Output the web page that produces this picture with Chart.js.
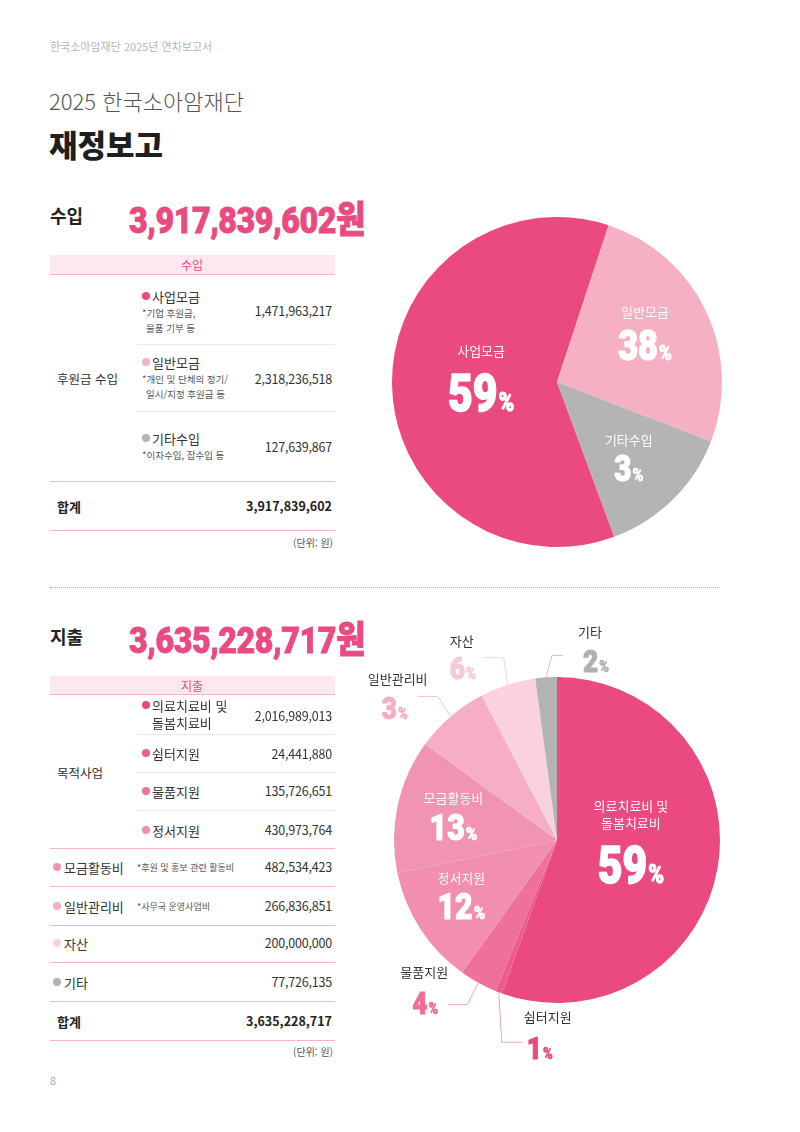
<!DOCTYPE html>
<html lang="ko">
<head>
<meta charset="utf-8">
<script src="https://cdn.jsdelivr.net/npm/chart.js@4.4.1/dist/chart.umd.min.js"></script>
<style>
  html, body { margin: 0; padding: 0; background: #fff; }
  #page { position: relative; width: 800px; height: 1132px; overflow: hidden;
          font-family: "Noto Sans CJK KR", "Noto Sans", sans-serif; color: #333; }
  .t { position: absolute; white-space: nowrap; line-height: 1; }
  .ln { position: absolute; }
  .dot { position: absolute; width: 8px; height: 8px; border-radius: 50%; }
  canvas { position: absolute; }
</style>
</head>
<body>
<div id="page">
  <canvas id="pieIncome" width="360" height="370" style="left:380px;top:200px;width:360px;height:370px"></canvas>
  <canvas id="pieExpense" width="400" height="460" style="left:360px;top:610px;width:400px;height:460px"></canvas>
</div>
<script>
// 수입 (income)
var incomeLabels = ['사업모금', '일반모금', '기타수입'];
var incomeAmounts = [1471963217, 2318236518, 127639867];
// slice sizes as they are drawn in the original pie (%), not the table ratio
var incomeSlices = [60.7, 25.8, 13.5];
var incomePct = ['59', '38', '3'];
var incomeTotal = 3917839602;

// 지출 (expense)
var expenseLabels = ['의료치료비 및 돌봄치료비', '쉼터지원', '물품지원', '정서지원', '모금활동비', '일반관리비', '자산', '기타'];
var expenseAmounts = [2016989013, 24441880, 135726651, 430973764, 482534423, 266836851, 200000000, 77726135];
var expensePct = ['59', '1', '4', '12', '13', '3', '6', '2'];
var expenseTotal = 3635228717;

var incomeColors = ['#EA4A80', '#F6B0C4', '#B4B4B4'];
var expenseColors = ['#EA4A80', '#EC5C8C', '#EF7199', '#F28FAF', '#F094B2', '#F5AEC3', '#FAD2DE', '#B3B3B3'];

var page = document.getElementById('page');
var fmt = function(n) { return n.toLocaleString('en-US'); };

function T(x, y, s, css, align) {
    var d = document.createElement('div');
    d.className = 't';
    d.textContent = s;
    var tx = align == 'right' ? '-100%' : (align == 'center' ? '-50%' : '0');
    d.style.cssText = 'left:' + x + 'px;top:' + y + 'px;transform:translate(' + tx + ',-50%);' + (css || '');
    page.appendChild(d);
    return d;
}
function L(x1, x2, y, css) {
    var d = document.createElement('div');
    d.className = 'ln';
    d.style.cssText = 'left:' + x1 + 'px;top:' + y + 'px;width:' + (x2 - x1) + 'px;' + css;
    page.appendChild(d);
}
function D(x, y, c) {
    var d = document.createElement('div');
    d.className = 'dot';
    d.style.cssText = 'left:' + (x - 4) + 'px;top:' + (y - 4) + 'px;background:' + c;
    page.appendChild(d);
}
function bigTotal(x, y, s) {
    var d = T(x, y, s, 'font-family:Roboto,"Noto Sans CJK KR";font-weight:900;font-size:37px;color:#E94A80;letter-spacing:-0.5px;-webkit-text-stroke:0.8px #E94A80;');
    d.style.transformOrigin = '0 0';
    d.style.transform = 'scaleX(0.87) translate(0,-50%)';
}

var pinkLine = 'border-top:1.5px solid #F5B5C8;';
var softLine = 'border-top:1px solid #F1E6EA;';
var numCss = 'font-size:12.5px;color:#333;letter-spacing:-0.2px;';
var noteCss = 'font-size:9.5px;color:#555;';
var itemCss = 'font-size:13px;color:#333;';

// header
T(50, 46, '한국소아암재단 2025년 연차보고서', 'font-size:11px;color:#b5b5b5;');
T(49, 100, '2025 한국소아암재단', 'font-size:22px;color:#555;font-weight:300;');
T(49, 143, '재정보고', 'font-size:31px;color:#1f1f1f;font-weight:900;');

// ---- income table
T(50, 215, '수입', 'font-size:18px;font-weight:700;color:#222;');
bigTotal(129, 220, fmt(incomeTotal) + '원');
var band = document.createElement('div');
band.style.cssText = 'position:absolute;left:50px;top:255px;width:285px;height:19px;background:#FDE8EF;';
page.appendChild(band);
L(50, 335, 274, pinkLine);
T(192, 265, '수입', 'font-size:12px;color:#E94A80;', 'center');
T(57, 379, '후원금 수입', 'font-size:12.5px;color:#333;');

var incRowY = [296, 362, 438];
var incValY = [311, 379, 447];
var incNotes = [['*기업 후원금,', '물품 기부 등'], ['*개인 및 단체의 정기/', '일시/지정 후원금 등'], ['*이자수입, 잡수입 등']];
for (var i = 0; i < incomeLabels.length; i++) {
    D(146, incRowY[i], incomeColors[i]);
    T(152, incRowY[i], incomeLabels[i], itemCss);
    for (var k = 0; k < incNotes[i].length; k++) {
        T(k == 0 ? 142 : 146, incRowY[i] + 18 + k * 15, incNotes[i][k], noteCss);
    }
    T(332, incValY[i], fmt(incomeAmounts[i]), numCss, 'right');
}
L(137, 335, 344, softLine);
L(137, 335, 411, softLine);
L(50, 335, 481, pinkLine);
T(57, 506, '합계', 'font-size:13px;font-weight:700;color:#222;');
T(332, 506, fmt(incomeTotal), 'font-size:12.5px;font-weight:700;color:#222;', 'right');
L(50, 335, 530, pinkLine);
T(333, 543, '(단위: 원)', 'font-size:10px;color:#555;', 'right');

// dotted divider
L(50, 720, 587, 'border-top:1.5px dotted #F08FAF;');

// ---- expense table
T(50, 636, '지출', 'font-size:18px;font-weight:700;color:#222;');
bigTotal(129, 640, fmt(expenseTotal) + '원');
var band2 = document.createElement('div');
band2.style.cssText = 'position:absolute;left:50px;top:676px;width:285px;height:18px;background:#FDE8EF;';
page.appendChild(band2);
L(50, 335, 694, pinkLine);
T(192, 686, '지출', 'font-size:12px;color:#E94A80;', 'center');
T(57, 773, '목적사업', 'font-size:12.5px;color:#333;');

var expRowY = [705, 753, 791, 830];
var expValY = [716, 754, 791, 830];
for (var i = 0; i < 4; i++) {
    D(146, expRowY[i], expenseColors[i]);
    if (i == 0) {
        T(152, 705, '의료치료비 및', itemCss);
        T(152, 722, '돌봄치료비', itemCss);
    } else {
        T(152, expRowY[i], expenseLabels[i], itemCss);
    }
    T(332, expValY[i], fmt(expenseAmounts[i]), numCss, 'right');
}
L(137, 335, 734, softLine);
L(137, 335, 772, softLine);
L(137, 335, 810, softLine);
L(50, 335, 848, pinkLine);

var lowY = [867, 906, 943, 982];
var lowNotes = ['*후원 및 홍보 관련 활동비', '*사무국 운영사업비', '', ''];
for (var j = 0; j < 4; j++) {
    var idx = 4 + j;
    D(57, lowY[j], expenseColors[idx]);
    T(64, lowY[j], expenseLabels[idx], itemCss);
    if (lowNotes[j]) T(137, lowY[j], lowNotes[j], 'font-size:9px;color:#555;');
    T(332, lowY[j], fmt(expenseAmounts[idx]), numCss, 'right');
    L(50, 335, lowY[j] + 19, pinkLine);
}
T(57, 1021, '합계', 'font-size:13px;font-weight:700;color:#222;');
T(332, 1021, fmt(expenseTotal), 'font-size:12.5px;font-weight:700;color:#222;', 'right');
L(50, 335, 1040, pinkLine);
T(333, 1052, '(단위: 원)', 'font-size:10px;color:#555;', 'right');
T(50, 1080, '8', 'font-size:11px;color:#aaa;');

// ---- pie labels
var SX = 0.82;
function drawPct(ctx, num, x, y, size, color) {
    ctx.save();
    ctx.fillStyle = color;
    ctx.strokeStyle = color;
    ctx.lineJoin = 'round';
    ctx.textBaseline = 'alphabetic';
    var big = '900 ' + size + 'px Roboto';
    var small = '900 ' + Math.round(size * 0.5) + 'px Roboto';
    ctx.font = big;
    var w1 = ctx.measureText(num).width * SX;
    ctx.font = small;
    var w2 = ctx.measureText('%').width * SX;
    ctx.translate(x - (w1 + w2 + 1) / 2, y + size * 0.355);
    ctx.scale(SX, 1);
    ctx.font = big;
    ctx.lineWidth = size / 32;
    ctx.fillText(num, 0, 0);
    ctx.strokeText(num, 0, 0);
    ctx.font = small;
    ctx.lineWidth = size / 50;
    ctx.fillText('%', (w1 + 1) / SX, 0);
    ctx.strokeText('%', (w1 + 1) / SX, 0);
    ctx.restore();
}
function drawName(ctx, lines, x, y, color) {
    ctx.save();
    ctx.fillStyle = color;
    ctx.font = '400 13px "Noto Sans CJK KR"';
    ctx.textAlign = 'center';
    ctx.textBaseline = 'middle';
    for (var i = 0; i < lines.length; i++) ctx.fillText(lines[i], x, y + i * 17);
    ctx.restore();
}

// label style per slice: inside -> radius fraction, name dy, pct dy, pct size
// outside -> elbow, end offsets and text offsets
var incomeLabelStyle = [
    { f: 0.46, nameDy: -32, pctDy: 9, size: 52 },
    { f: 0.59, nameDy: -28, pctDy: 5, size: 42 },
    { f: 0.62, nameDy: -15, pctDy: 13, size: 36 }
];
var expenseLabelStyle = [
    { f: 0.46, nameDy: -30, pctDy: 12, size: 52, lines: ['의료치료비 및', '돌봄치료비'] },
    { out: true, elbow: [3, 50], end: 21, name: [25, -25], pct: [17, 5], color: '#E94A80', line: '#F3A3BC' },
    { out: true, elbow: [-11, 22], end: -19, name: [-24, -33], pct: [-23, -2], color: '#EE6E98', line: '#F3A3BC' },
    { f: 0.70, nameDy: -24, pctDy: 4, size: 37 },
    { f: 0.65, nameDy: -20, pctDy: 9, size: 37 },
    { out: true, elbow: [-13, -20], end: -20, name: [-20, -17], pct: [-23, 11], color: '#F5AFC4', line: '#F6C3D2' },
    { out: true, elbow: [-4, -27], end: -20, name: [-22, -17], pct: [-21, 10], color: '#F9C8D6', line: '#F8D3DE' },
    { out: true, elbow: [6, -22], end: 11, name: [27, -23], pct: [33, 5], color: '#B0B0B0', line: '#C4C4C4' }
];

var pieLabels = {
    id: 'pieLabels',
    afterDatasetsDraw: function(chart, args, opts) {
        var ctx = chart.ctx;
        var meta = chart.getDatasetMeta(0);
        meta.data.forEach(function(arc, i) {
            var p = arc.getProps(['x', 'y', 'startAngle', 'endAngle', 'outerRadius'], true);
            var mid = (p.startAngle + p.endAngle) / 2;
            var st = opts.style[i];
            var name = chart.data.labels[i];
            var pct = opts.pct[i];
            if (!st.out) {
                var cx = p.x + Math.cos(mid) * p.outerRadius * st.f;
                var cy = p.y + Math.sin(mid) * p.outerRadius * st.f;
                var lines = st.lines || [name];
                drawName(ctx, lines, cx, cy + st.nameDy - (lines.length - 1) * 17, 'rgba(255,255,255,0.95)');
                drawPct(ctx, pct, cx, cy + st.pctDy, st.size, '#fff');
            } else {
                var ax = p.x + Math.cos(mid) * p.outerRadius;
                var ay = p.y + Math.sin(mid) * p.outerRadius;
                var ex = ax + st.elbow[0], ey = ay + st.elbow[1];
                var fx = ex + st.end;
                ctx.save();
                ctx.strokeStyle = st.line;
                ctx.lineWidth = 1;
                ctx.beginPath();
                ctx.moveTo(ax, ay);
                ctx.lineTo(ex, ey);
                ctx.lineTo(fx, ey);
                ctx.stroke();
                ctx.restore();
                drawName(ctx, [name], fx + st.name[0], ey + st.name[1], '#333');
                drawPct(ctx, pct, fx + st.pct[0], ey + st.pct[1], 32, st.color);
            }
        });
    }
};

new Chart(document.getElementById('pieIncome'), {
    type: 'pie',
    data: {
        labels: incomeLabels,
        datasets: [{ data: incomeSlices, backgroundColor: incomeColors, borderWidth: 0 }]
    },
    options: {
        responsive: false,
        animation: false,
        rotation: 159.7,
        layout: { padding: { left: 12, right: 18, top: 17, bottom: 23 } },
        plugins: {
            legend: { display: false },
            tooltip: { enabled: false },
            pieLabels: { style: incomeLabelStyle, pct: incomePct }
        }
    },
    plugins: [pieLabels]
});

new Chart(document.getElementById('pieExpense'), {
    type: 'pie',
    data: {
        labels: expenseLabels,
        datasets: [{ data: expenseAmounts, backgroundColor: expenseColors, borderWidth: 0 }]
    },
    options: {
        responsive: false,
        animation: false,
        layout: { padding: { left: 34, right: 40, top: 67, bottom: 67 } },
        plugins: {
            legend: { display: false },
            tooltip: { enabled: false },
            pieLabels: { style: expenseLabelStyle, pct: expensePct }
        }
    },
    plugins: [pieLabels]
});
</script>
</body>
</html>
